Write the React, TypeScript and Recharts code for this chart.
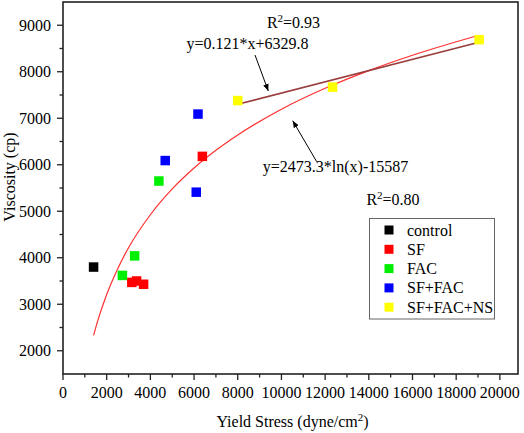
import React from 'react'
import { ComposedChart, Scatter, Line, XAxis, YAxis } from 'recharts'

const controlX = [1400]
const controlY = [3800]
const sfX = [3150, 3370, 3690, 6380]
const sfY = [3470, 3500, 3430, 6180]
const facX = [2720, 3280, 4390]
const facY = [3620, 4040, 5650]
const sfFacX = [4680, 6100, 6180]
const sfFacY = [6090, 5410, 7090]
const nsX = [8000, 12340, 19050]
const nsY = [7380, 7670, 8690]

// fitted curves
const logFitX = [1400, 1600, 2000, 2500, 3000, 4000, 5000, 6000, 7000, 8000, 10000, 12000, 14000, 16000, 19000]
const logFitY = [2330, 2660, 3210, 3760, 4215, 4925, 5480, 5930, 6310, 6640, 7195, 7645, 8025, 8355, 8780]
const linFitX = [8000, 19000]
const linFitY = [7300, 8630]

const xTicks = [0, 1000, 2000, 3000, 4000, 5000, 6000, 7000, 8000, 9000, 10000, 11000, 12000, 13000, 14000, 15000, 16000, 17000, 18000, 19000, 20000]
const yTicks = [2000, 2500, 3000, 3500, 4000, 4500, 5000, 5500, 6000, 6500, 7000, 7500, 8000, 8500, 9000]

const zip = (xs: number[], ys: number[]) => xs.map((x, i) => ({ x, y: ys[i] }))

const series = [
  { name: 'control', color: '#000000', data: zip(controlX, controlY) },
  { name: 'SF', color: '#ff0000', data: zip(sfX, sfY) },
  { name: 'FAC', color: '#00ee00', data: zip(facX, facY) },
  { name: 'SF+FAC', color: '#0000ff', data: zip(sfFacX, sfFacY) },
  { name: 'SF+FAC+NS', color: '#ffff00', data: zip(nsX, nsY) },
]

const W = 524
const H = 433
const box = { left: 63, top: 2, right: 518, bottom: 374 }
const font = "'Liberation Serif', 'DejaVu Serif', serif"
const txt = { fontFamily: font, fontSize: 16 }
const sup = { fontFamily: font, fontSize: 11 }

const SquareShape = (props: any) => {
  const { cx, cy, fill } = props
  return <rect x={cx - 4.75} y={cy - 4.75} width={9.5} height={9.5} fill={fill} />
}

const XTick = (props: any) => {
  const { x, y, payload } = props
  const major = payload.value % 2000 === 0
  return (
    <g>
      <line x1={x} y1={y} x2={x} y2={y + (major ? 6 : 3.5)} stroke="#222" strokeWidth={1.3} />
      {major && (
        <text x={x} y={y + 23.5} textAnchor="middle" style={txt} fill="#000">
          {payload.value}
        </text>
      )}
    </g>
  )
}

const YTick = (props: any) => {
  const { x, y, payload } = props
  const major = payload.value % 1000 === 0
  return (
    <g>
      <line x1={x} y1={y} x2={x - (major ? 6 : 3.5)} y2={y} stroke="#222" strokeWidth={1.3} />
      {major && (
        <text x={x - 12} y={y} dy="0.35em" textAnchor="end" style={txt} fill="#000">
          {payload.value}
        </text>
      )}
    </g>
  )
}

export default function App() {
  return (
    <div style={{ position: 'absolute', left: 0, top: 0, width: W, height: H, background: '#fff' }}>
      <ComposedChart width={W} height={H} margin={{ top: box.top, right: W - box.right, left: 0, bottom: 0 }}>
        <XAxis
          type="number"
          dataKey="x"
          domain={[0, 20830]}
          ticks={xTicks}
          allowDataOverflow
          height={H - box.bottom}
          tickSize={0}
          tickMargin={0}
          tickLine={false}
          axisLine={false}
          tick={<XTick />}
          interval={0}
        />
        <YAxis
          type="number"
          dataKey="y"
          domain={[1500, 9500]}
          ticks={yTicks}
          allowDataOverflow
          width={box.left}
          tickSize={0}
          tickMargin={0}
          tickLine={false}
          axisLine={false}
          tick={<YTick />}
          interval={0}
        />
        <Line
          data={zip(logFitX, logFitY)}
          dataKey="y"
          type="monotone"
          stroke="#ff3030"
          strokeWidth={1.2}
          dot={false}
          activeDot={false}
          isAnimationActive={false}
          legendType="none"
        />
        <Line
          data={zip(linFitX, linFitY)}
          dataKey="y"
          type="linear"
          stroke="#9a3c3c"
          strokeWidth={1.6}
          dot={false}
          activeDot={false}
          isAnimationActive={false}
          legendType="none"
        />
        {series.map((s) => (
          <Scatter
            key={s.name}
            name={s.name}
            data={s.data}
            dataKey="y"
            fill={s.color}
            shape={<SquareShape />}
            isAnimationActive={false}
          />
        ))}
      </ComposedChart>

      <svg width={W} height={H} style={{ position: 'absolute', left: 0, top: 0, pointerEvents: 'none' }}>
        <defs>
          <marker id="arr" viewBox="0 0 10 10" refX="10" refY="5" markerWidth="7" markerHeight="7" orient="auto">
            <path d="M0,1 L10,5 L0,9 z" fill="#000" />
          </marker>
        </defs>
        <rect
          x={box.left}
          y={box.top}
          width={box.right - box.left}
          height={box.bottom - box.top}
          fill="none"
          stroke="#222"
          strokeWidth={1.6}
        />

        {/* fit annotations */}
        <text x={293.5} y={28} textAnchor="middle" style={txt} fill="#000">
          R<tspan dy={-6} style={sup}>2</tspan>
          <tspan dy={6}>=0.93</tspan>
        </text>
        <text x={247.5} y={49} textAnchor="middle" style={txt} fill="#000">
          y=0.121*x+6329.8
        </text>
        <line x1={255} y1={55} x2={268.3} y2={91} stroke="#000" strokeWidth={1} markerEnd="url(#arr)" />
        <line x1={316.7} y1={161.7} x2={292.7} y2={120.7} stroke="#000" strokeWidth={1} markerEnd="url(#arr)" />
        <text x={335.5} y={171.5} textAnchor="middle" style={txt} fill="#000">
          y=2473.3*ln(x)-15587
        </text>
        <text x={393} y={205} textAnchor="middle" style={txt} fill="#000">
          R<tspan dy={-6} style={sup}>2</tspan>
          <tspan dy={6}>=0.80</tspan>
        </text>

        {/* axis titles */}
        <text x={292.5} y={427} textAnchor="middle" style={txt} fill="#000">
          Yield Stress (dyne/cm<tspan dy={-6} style={sup}>2</tspan>
          <tspan dy={6}>)</tspan>
        </text>
        <text x={14.5} y={177} textAnchor="middle" style={txt} fill="#000" transform="rotate(-90, 14.5, 177)">
          Viscosity (cp)
        </text>

        {/* legend */}
        <rect x={369.5} y={218.5} width={125} height={100.5} fill="#fff" stroke="#666" strokeWidth={1} />
        {series.map((s, i) => (
          <g key={s.name}>
            <rect x={384.5} y={225.5 + i * 19.3} width={9} height={9} fill={s.color} />
            <text x={407} y={235.5 + i * 19.3} style={txt} fill="#000">
              {s.name}
            </text>
          </g>
        ))}
      </svg>
    </div>
  )
}
